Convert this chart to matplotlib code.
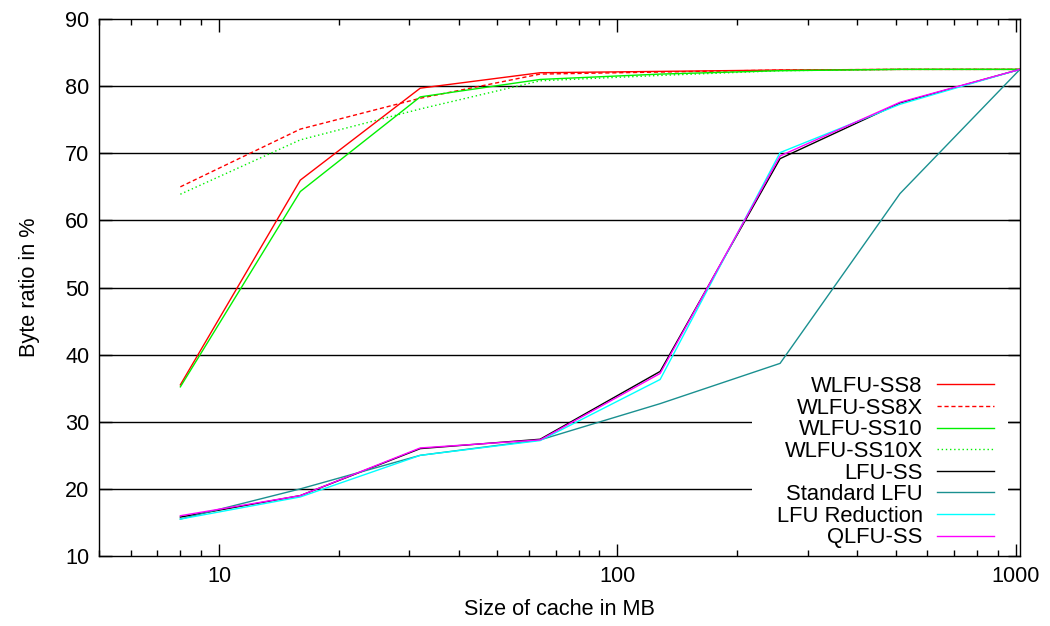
import matplotlib
matplotlib.use("Agg")
import matplotlib.pyplot as plt
from matplotlib.patches import Rectangle
from matplotlib.ticker import LogLocator, FixedLocator, NullFormatter

plt.rcParams['font.family'] = ['Liberation Sans', 'DejaVu Sans']

cache_mb = [8, 16, 32, 64, 128, 256, 512, 1024]
wlfu_ss8 = [35.5, 66.0, 79.7, 82.0, 82.2, 82.4, 82.5, 82.5]
wlfu_ss8x = [65.0, 73.6, 78.2, 81.8, 82.1, 82.4, 82.5, 82.5]
wlfu_ss10 = [35.2, 64.3, 78.4, 81.0, 81.8, 82.3, 82.5, 82.5]
wlfu_ss10x = [63.9, 72.0, 76.6, 80.8, 81.6, 82.3, 82.5, 82.5]
lfu_ss = [15.8, 19.0, 26.0, 27.4, 37.5, 69.2, 77.5, 82.5]
standard_lfu = [15.5, 20.0, 25.0, 27.3, 32.7, 38.7, 64.0, 82.5]
lfu_reduction = [15.5, 18.8, 25.0, 27.2, 36.3, 70.1, 77.3, 82.5]
qlfu_ss = [16.0, 19.0, 26.1, 27.3, 37.2, 69.6, 77.6, 82.5]

labels = ["WLFU-SS8", "WLFU-SS8X", "WLFU-SS10", "WLFU-SS10X", "LFU-SS",
          "Standard LFU", "LFU Reduction", "QLFU-SS"]
series = [wlfu_ss8, wlfu_ss8x, wlfu_ss10, wlfu_ss10x, lfu_ss,
          standard_lfu, lfu_reduction, qlfu_ss]
colors = ["#ff0000", "#ff0000", "#00f000", "#00f000", "#000000",
          "#1a9090", "#00ffff", "#ff00ff"]
styles = ["-", (0, (3, 2)), "-", (0, (1, 2)), "-", "-", "-", "-"]

y_ticks = [10, 20, 30, 40, 50, 60, 70, 80, 90]

fig = plt.figure(figsize=(10.5, 6.26), dpi=100)
ax = fig.add_axes([0.0943, 0.1118, 0.8771, 0.8578])
FS = 15.8

for y in y_ticks[1:-1]:
    ax.axhline(y, color="black", lw=1.0, zorder=0.5)

ax.add_patch(Rectangle((0.709, 0.0075), 0.278, 0.35, transform=ax.transAxes,
                       facecolor="white", edgecolor="none", zorder=1))

handles = []
for vals, lab, c, ls in zip(series, labels, colors, styles):
    h, = ax.plot(cache_mb, vals, color=c, linestyle=ls, lw=1.0, label=lab, zorder=2)
    handles.append(h)

ax.set_xscale("log")
ax.set_xlim(5, 1024)
ax.set_ylim(10, 90)
ax.yaxis.set_major_locator(FixedLocator(y_ticks))
ax.xaxis.set_major_locator(FixedLocator([10, 100, 1000]))
ax.set_xticklabels(["10", "100", "1000"])
ax.xaxis.set_minor_locator(LogLocator(base=10, subs=range(2, 10)))
ax.xaxis.set_minor_formatter(NullFormatter())
ax.tick_params(axis="both", which="major", direction="in", length=9, width=1,
               top=True, right=True, labelsize=15.6, pad=7)
ax.tick_params(axis="both", which="minor", direction="in", length=4.5, width=1,
               top=True, right=True)
ax.set_axisbelow(False)
for s in ax.spines.values():
    s.set_linewidth(1.0)

ax.set_xlabel("Size of cache in MB", fontsize=15.6, labelpad=9)
ax.set_ylabel("Byte ratio in %", fontsize=15.6, labelpad=18)

leg = ax.legend(handles=handles, loc="lower right", bbox_to_anchor=(0.972, 0.014),
                frameon=False, markerfirst=False, fontsize=FS, labelspacing=0.03,
                handlelength=2.6, handletextpad=0.65, borderpad=0, borderaxespad=0)
for col in leg._legend_handle_box.get_children():
    col.align = "right"

fig.savefig("out.png", dpi=100)
